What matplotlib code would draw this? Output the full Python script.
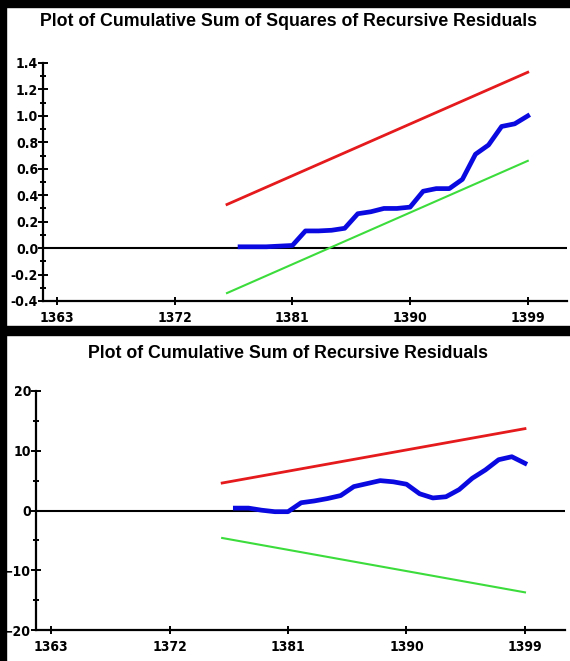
import numpy as np
import matplotlib
matplotlib.use('Agg')
import matplotlib.pyplot as plt
from matplotlib.patches import Rectangle
from matplotlib.ticker import MultipleLocator, FormatStrFormatter
from matplotlib.font_manager import FontProperties

# cusum of squares panel
years_sq = [1377, 1378, 1379, 1380, 1381, 1382, 1383, 1384, 1385, 1386, 1387, 1388,
            1389, 1390, 1391, 1392, 1393, 1394, 1395, 1396, 1397, 1398, 1399]
cusumsq = [0.01, 0.01, 0.01, 0.015, 0.02, 0.13, 0.13, 0.135, 0.15, 0.26, 0.275, 0.30,
           0.30, 0.31, 0.43, 0.45, 0.45, 0.52, 0.71, 0.78, 0.92, 0.94, 1.0]
bound_years = [1376, 1399]
sq_upper = [0.33, 1.33]
sq_lower = [-0.34, 0.66]

# cusum panel
years_cs = years_sq
cusum = [0.4, 0.4, 0.05, -0.2, -0.2, 1.3, 1.6, 2.0, 2.5, 4.0, 4.5, 5.0,
         4.8, 4.4, 2.8, 2.1, 2.3, 3.5, 5.4, 6.8, 8.5, 9.0, 7.9]
cs_upper = [4.6, 13.7]
cs_lower = [-4.6, -13.7]

xticks = [1363, 1372, 1381, 1390, 1399]

W, H = 570, 661
fig = plt.figure(figsize=(W / 100, H / 100), dpi=100)
fig.patch.set_facecolor('white')


def box(l, t, r, b):
    return [l / W, 1 - b / H, (r - l) / W, (b - t) / H]


# black frame bands
for l, t, r, b in [(0, 0, W, 7), (0, 0, 6, H), (0, 326, W, 335)]:
    fig.add_artist(Rectangle((l / W, 1 - b / H), (r - l) / W, (b - t) / H,
                             transform=fig.transFigure, color='black', zorder=0))

tickprop = FontProperties(family='DejaVu Sans', weight='bold', stretch='condensed', size=10)
titlefont = dict(family=['Liberation Sans', 'DejaVu Sans'], weight='bold', size=12.8)

red = '#e41a1c'
blue = '#0a0ae0'
green = '#3cdc3c'


def style(ax, xlim, ylim, major, minor):
    ax.set_xlim(xlim)
    ax.set_ylim(ylim)
    ax.patch.set_alpha(0)
    for s in ['top', 'right']:
        ax.spines[s].set_visible(False)
    for s in ['left', 'bottom']:
        ax.spines[s].set_linewidth(1.6)
    ax.set_xticks(xticks)
    ax.yaxis.set_major_locator(MultipleLocator(major))
    ax.yaxis.set_minor_locator(MultipleLocator(minor))
    ax.tick_params(axis='y', which='major', direction='inout', length=7, width=1.4, pad=0)
    ax.tick_params(axis='y', which='minor', direction='inout', length=5, width=1.4)
    ax.tick_params(axis='x', direction='inout', length=6, width=1.4, pad=4)
    ax.axhline(0, color='black', lw=1.5, zorder=1)


ax1 = fig.add_axes(box(43, 63, 567, 301))
style(ax1, (1361.93, 1402.0), (-0.4, 1.4), 0.2, 0.1)
ax1.yaxis.set_major_formatter(FormatStrFormatter('%.1f'))
ax1.plot(bound_years, sq_upper, color=red, lw=2.0, zorder=2)
ax1.plot(bound_years, sq_lower, color=green, lw=1.5, zorder=2)
ax1.plot(years_sq, cusumsq, color=blue, lw=3.4, zorder=3, solid_joinstyle='round')
fig.text(289 / W, 1 - 22 / H, 'Plot of Cumulative Sum of Squares of Recursive Residuals',
         ha='center', va='center', **titlefont)

ax2 = fig.add_axes(box(36, 391, 565, 630))
style(ax2, (1361.86, 1402.04), (-20, 20), 10, 5)
ax2.plot(bound_years, cs_upper, color=red, lw=2.0, zorder=2)
ax2.plot(bound_years, cs_lower, color=green, lw=1.5, zorder=2)
ax2.plot(years_cs, cusum, color=blue, lw=3.4, zorder=3, solid_joinstyle='round')
fig.text(288 / W, 1 - 353 / H, 'Plot of Cumulative Sum of Recursive Residuals',
         ha='center', va='center', **titlefont)

for ax in [ax1, ax2]:
    for lab in ax.get_xticklabels() + ax.get_yticklabels():
        lab.set_fontproperties(tickprop)

fig.savefig('out.png', dpi=100)
